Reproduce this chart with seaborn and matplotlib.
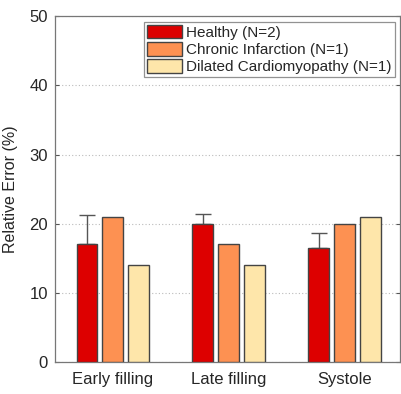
import numpy as np
import pandas as pd
import matplotlib
matplotlib.use("Agg")
import matplotlib.pyplot as plt
import seaborn as sns

phases = ["Early filling", "Late filling", "Systole"]
groups = ["Healthy (N=2)", "Chronic Infarction (N=1)", "Dilated Cardiomyopathy (N=1)"]
healthy = [17.0, 20.0, 16.5]
chronic = [21.0, 17.0, 20.0]
dilated = [14.0, 14.0, 21.0]
healthy_err = [4.2, 1.4, 2.1]
colors = ["#dd0000", "#fd9152", "#fee6aa"]
yticks = [0, 10, 20, 30, 40, 50]

df = pd.DataFrame({
    "phase": phases * 3,
    "group": [groups[0]] * 3 + [groups[1]] * 3 + [groups[2]] * 3,
    "value": healthy + chronic + dilated,
})

sns.set_style("white")
plt.rcParams["font.family"] = ["Liberation Sans", "DejaVu Sans"]

fig = plt.figure(figsize=(4.01, 3.94), dpi=100)
ax = fig.add_axes([0.137, 0.081, 0.861, 0.878])

sns.barplot(data=df, x="phase", y="value", hue="group", order=phases,
            hue_order=groups, palette=colors, saturation=1, width=0.672, gap=0.2,
            edgecolor="#444444", linewidth=1.0, errorbar=None, ax=ax, zorder=3)

# error bars on Healthy bars (upper only)
hpatches = ax.patches[:3]
xs = [p.get_x() + p.get_width() / 2 for p in hpatches]
tops = [p.get_height() for p in hpatches]
ax.errorbar(xs, tops, yerr=[np.zeros(3), healthy_err], fmt="none",
            ecolor="#555555", elinewidth=1.0, capsize=6, capthick=1.0, zorder=2)

ax.set_ylim(0, 50)
ax.set_xlim(-0.5, 2.48)
ax.set_yticks(yticks)
ax.set_yticklabels([str(t) for t in yticks], fontsize=12)
ax.tick_params(axis="x", labelsize=12, length=0, pad=7)
ax.tick_params(axis="y", direction="in", length=3, right=True, left=True, pad=5, color="#555555")
ax.yaxis.grid(True, linestyle=(0, (1, 2)), color="#bbbbbb", linewidth=0.8)
ax.set_axisbelow(True)
ax.set_xlabel("")
ax.set_ylabel("Relative Error (%)", fontsize=11.5, labelpad=8)
for s in ax.spines.values():
    s.set_color("#777777")
    s.set_linewidth(0.9)

leg = ax.legend(loc="upper right", fontsize=11, frameon=True, fancybox=False,
                edgecolor="#777777", borderpad=0.2, handlelength=2.3,
                handleheight=1.0, handletextpad=0.25, labelspacing=0.15,
                borderaxespad=0.35)
leg.get_frame().set_linewidth(0.9)

fig.savefig("out.png", dpi=100)
